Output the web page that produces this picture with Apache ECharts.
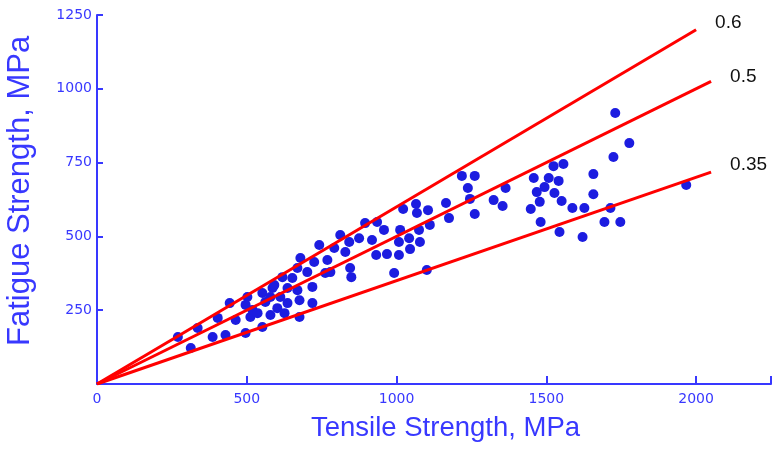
<!DOCTYPE html>
<html>
<head>
<meta charset="utf-8">
<script src="https://cdn.jsdelivr.net/npm/echarts@6/dist/echarts.min.js"></script>
<style>
  html, body { margin: 0; padding: 0; background: #fff; }
  #chart { width: 774px; height: 450px; }
</style>
</head>
<body>
<div id="chart"></div>
<script>
// Tensile strength (MPa) of each tested material
const tensile = [
  270, 313, 336, 386, 429, 403, 443, 463, 496, 502, 512, 519, 496, 536, 552, 552,
  562, 579, 586, 592, 579, 602, 612, 619, 626, 636, 636, 652, 669, 669, 676, 676,
  679, 702, 719, 719, 725, 742, 762, 779, 769, 792, 812, 829, 842, 845, 849, 875,
  895, 918, 932, 935, 958, 968, 992, 1008, 1008, 1012, 1022, 1042, 1045, 1065, 1068, 1075,
  1078, 1101, 1105, 1111, 1165, 1175, 1218, 1261, 1238, 1245, 1261, 1324, 1364, 1354, 1448, 1458,
  1468, 1478, 1481, 1494, 1508, 1524, 1557, 1527, 1541, 1551, 1544, 1587, 1621, 1627, 1657, 1657,
  1694, 1714, 1724, 1730, 1747, 1777, 1967
];
// Fatigue strength (MPa), same order as tensile
const fatigue = [
  159, 122, 190, 159, 166, 224, 274, 217, 173, 295, 227, 251, 268, 240, 308, 193,
  278, 234, 325, 335, 295, 257, 295, 362, 240, 325, 274, 359, 393, 318, 284, 227,
  427, 379, 329, 274, 413, 471, 376, 379, 420, 461, 505, 447, 481, 393, 362, 494,
  545, 488, 437, 549, 522, 440, 376, 481, 437, 522, 593, 494, 457, 610, 579, 522,
  481, 386, 589, 539, 613, 562, 705, 705, 664, 627, 576, 623, 664, 603, 593, 698,
  650, 617, 549, 667, 698, 738, 745, 647, 688, 620, 515, 596, 498, 596, 711, 643,
  549, 596, 769, 918, 549, 816, 674
];
// Reference ratios of fatigue to tensile strength and where each line ends
const ratios = [0.6, 0.5, 0.35];
const ratioEnds = [2000, 2050, 2050];
const ratioLabels = ['0.6', '0.5', '0.35'];
const ratioLabelLift = [-7, -5, -7];

const xTicks = [0, 500, 1000, 1500, 2000];
const yTicks = [250, 500, 750, 1000, 1250];

const AXIS_BLUE = '#3838ff';
const DOT_BLUE = '#1c1ce0';
const TICK_FONT = "'DejaVu Sans', Verdana, sans-serif";
const TITLE_FONT = "'Liberation Sans', Arial, sans-serif";

const points = tensile.map((t, i) => [t, fatigue[i]]);

const ratioSeries = ratios.map((r, i) => ({
  type: 'line',
  data: [[0, 0], [ratioEnds[i], r * ratioEnds[i]]],
  symbol: 'none',
  lineStyle: { color: '#ff0000', width: 3 },
  endLabel: {
    show: true,
    formatter: ratioLabels[i],
    distance: 19,
    offset: [0, ratioLabelLift[i]],
    color: '#111111',
    fontSize: 19,
    fontFamily: TITLE_FONT
  },
  silent: true,
  animation: false,
  z: 3
}));

const chart = echarts.init(document.getElementById('chart'), null, { renderer: 'canvas' });
chart.setOption({
  animation: false,
  backgroundColor: '#ffffff',
  grid: { left: 97, top: 15, width: 675, bottom: 66, containLabel: false },
  xAxis: {
    type: 'value',
    min: 0,
    max: 2250,
    interval: 500,
    axisLine: { show: true, onZero: false, lineStyle: { color: AXIS_BLUE, width: 2 } },
    axisTick: { show: true, inside: true, length: 8, lineStyle: { color: AXIS_BLUE, width: 2 } },
    axisLabel: {
      color: AXIS_BLUE,
      fontSize: 14,
      fontFamily: TICK_FONT,
      margin: 8,
      formatter: v => (xTicks.indexOf(v) >= 0 ? String(v) : '')
    },
    splitLine: { show: false }
  },
  yAxis: {
    type: 'value',
    min: 0,
    max: 1250,
    interval: 250,
    axisLine: { show: true, onZero: false, lineStyle: { color: AXIS_BLUE, width: 2 } },
    axisTick: { show: true, inside: true, length: 6, lineStyle: { color: AXIS_BLUE, width: 2 } },
    axisLabel: {
      color: AXIS_BLUE,
      fontSize: 14,
      fontFamily: TICK_FONT,
      margin: 5,
      formatter: v => (yTicks.indexOf(v) >= 0 ? String(v) : '')
    },
    splitLine: { show: false }
  },
  graphic: [
    {
      type: 'text',
      left: 311,
      top: 414,
      style: {
        text: 'Tensile Strength, MPa',
        fill: AXIS_BLUE,
        font: "27.5px 'Liberation Sans', Arial, sans-serif"
      }
    },
    {
      type: 'text',
      x: 5,
      y: 346,
      rotation: Math.PI / 2,
      style: {
        text: 'Fatigue Strength, MPa',
        fill: AXIS_BLUE,
        font: "31px 'Liberation Sans', Arial, sans-serif"
      }
    }
  ],
  series: [
    {
      type: 'scatter',
      data: points,
      symbol: 'circle',
      symbolSize: 10,
      itemStyle: { color: DOT_BLUE, opacity: 1 },
      z: 2
    },
    ...ratioSeries
  ]
});
</script>
</body>
</html>
